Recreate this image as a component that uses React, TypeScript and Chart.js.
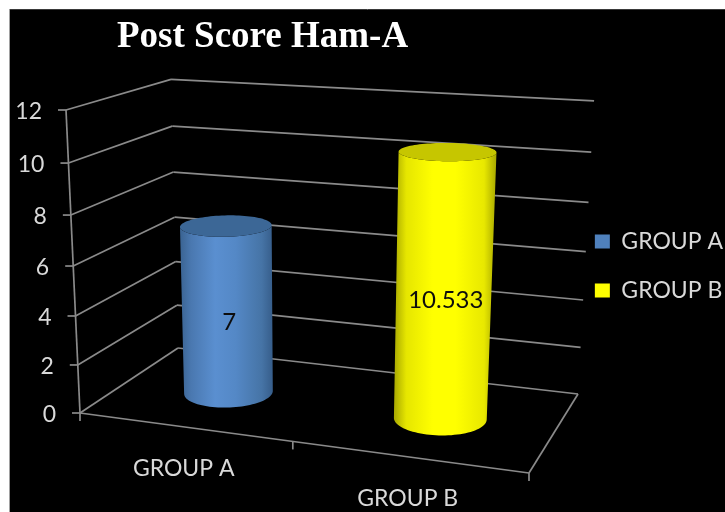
import { useEffect, useRef } from "react";
import { Chart, registerables } from "chart.js";

Chart.register(...registerables);

const categories = ["GROUP A", "GROUP B"];
const groupAValues = [7, null];
const groupBValues = [null, 10.533];
const seriesNames = ["GROUP A", "GROUP B"];
const seriesColors = ["#4f81bd", "#ffff00"];
const axisMax = 12;
const axisStep = 2;

const TEXT = "#d9d9d9";
const GRID = "#8a8a8a";
const SANS = "Lato";

// Screen positions of the 3D frame's corners: origin, far end of the width,
// depth and height edges, with their perspective weights.
const ORIGIN = [80, 413];
const WIDTH_END = [529, 473];
const DEPTH_END = [178, 348];
const HEIGHT_END = [66, 110];
const W_U = -0.099;
const W_V = 0.1346;
const W_T = -0.058;

const project = (u: number, v: number, t: number) => {
  const w = 1 + W_U * u + W_V * v + W_T * t;
  const axis = (i: number) => {
    const bu = (1 + W_U) * WIDTH_END[i] - ORIGIN[i];
    const bv = (1 + W_V) * DEPTH_END[i] - ORIGIN[i];
    const bt = (1 + W_T) * HEIGHT_END[i] - ORIGIN[i];
    return (ORIGIN[i] + u * bu + v * bv + t * bt) / w;
  };
  return [axis(0), axis(1)];
};

// Cylinders stand slightly in front of the middle of the floor.
const BAR_DEPTH = 0.48;
const BAR_DEPTH_RADIUS = 0.21;

const cylinderShades = [
  { stops: ["#3a6391", "#4a78b0", "#5a8fd0", "#5488c6", "#4674a6", "#365d8a"], cap: "#3c6796" },
  { stops: ["#a8a800", "#e6e600", "#ffff00", "#ffff00", "#e8e800", "#a8a800"], cap: "#c6c600" },
];

const line = (ctx: CanvasRenderingContext2D, a: number[], b: number[]) => {
  ctx.beginPath();
  ctx.moveTo(a[0], a[1]);
  ctx.lineTo(b[0], b[1]);
  ctx.stroke();
};

const framePlugin = {
  id: "frame3d",
  beforeDraw(chart: any) {
    const { ctx, width, height } = chart;
    ctx.save();
    ctx.fillStyle = "#000000";
    ctx.fillRect(10, 10, width - 10, height - 10);
    ctx.lineWidth = 1;
    ctx.strokeStyle = "#a0a0a0";
    line(ctx, [9.5, height], [9.5, 10]);
    ctx.strokeStyle = "#3a3a3a";
    line(ctx, [9.5, 9.5], [width, 9.5]);
    ctx.restore();
  },
  beforeDatasetsDraw(chart: any) {
    const { ctx, chartArea, scales } = chart;
    const toT = (value: number) =>
      (chartArea.bottom - scales.y.getPixelForValue(value)) / chartArea.height;
    const toU = (px: number) => (px - chartArea.left) / chartArea.width;

    ctx.save();
    ctx.strokeStyle = GRID;
    ctx.lineWidth = 1.7;
    ctx.fillStyle = TEXT;
    ctx.font = `23px ${SANS}`;

    // Gridlines across the left and back walls, with the value ticks.
    ctx.textAlign = "right";
    ctx.textBaseline = "middle";
    scales.y.ticks.forEach((tick: any) => {
      const t = toT(tick.value);
      const front = project(0, 0, t);
      const corner = project(0, 1, t);
      const far = project(1, 1, t);
      line(ctx, front, corner);
      line(ctx, corner, far);
      line(ctx, [front[0] - 8, front[1]], front);
      ctx.fillText(tick.label, front[0] - 24, front[1] + 2);
    });

    // Value axis and the floor outline.
    line(ctx, project(0, 0, 0), project(0, 0, 1));
    line(ctx, project(0, 0, 0), project(1, 0, 0));
    line(ctx, project(1, 0, 0), project(1, 1, 0));

    // Category ticks and labels along the front edge of the floor.
    [0, 0.5, 1].forEach((u) => {
      const p = project(u, 0, 0);
      line(ctx, p, [p[0], p[1] + 8]);
    });
    ctx.textAlign = "center";
    scales.x.ticks.forEach((_: any, i: number) => {
      const p = project(toU(scales.x.getPixelForValue(i)), 0, 0);
      ctx.fillText(categories[i], p[0], p[1] + 42);
    });

    // One cylinder per value, taken from the bar elements.
    chart.data.datasets.forEach((dataset: any, di: number) => {
      chart.getDatasetMeta(di).data.forEach((bar: any, i: number) => {
        const value = dataset.data[i];
        if (value == null) return;
        const u = toU(bar.x);
        const ru = bar.width / 2 / chartArea.width;
        const t = toT(value);
        const ring = (h: number) => {
          const pts: number[][] = [];
          for (let k = 0; k < 96; k++) {
            const a = (k / 96) * Math.PI * 2;
            pts.push(project(u + ru * Math.cos(a), BAR_DEPTH - BAR_DEPTH_RADIUS * Math.sin(a), h));
          }
          return pts;
        };
        const top = ring(t);
        const bottom = ring(0);
        const extreme = (pts: number[][], sign: number) =>
          pts.reduce((best, p, idx) => (sign * p[0] > sign * pts[best][0] ? idx : best), 0);
        // Near side of a ring, running from its rightmost to its leftmost point.
        const frontArc = (pts: number[][]) => {
          const r = extreme(pts, 1);
          const l = extreme(pts, -1);
          const arc: number[][] = [];
          for (let k = r; ; k = (k + 1) % pts.length) {
            arc.push(pts[k]);
            if (k === l) break;
          }
          return arc;
        };
        const shade = cylinderShades[di];
        const xs = [...top, ...bottom].map((p) => p[0]);
        const gradient = ctx.createLinearGradient(Math.min(...xs), 0, Math.max(...xs), 0);
        [0, 0.12, 0.38, 0.6, 0.88, 1].forEach((s, k) => gradient.addColorStop(s, shade.stops[k]));

        const lowArc = frontArc(bottom);
        const highArc = frontArc(top);
        ctx.beginPath();
        ctx.moveTo(highArc[0][0], highArc[0][1]);
        lowArc.forEach((p) => ctx.lineTo(p[0], p[1]));
        [...highArc].reverse().forEach((p) => ctx.lineTo(p[0], p[1]));
        ctx.closePath();
        ctx.fillStyle = gradient;
        ctx.fill();

        ctx.beginPath();
        top.forEach((p, k) => (k ? ctx.lineTo(p[0], p[1]) : ctx.moveTo(p[0], p[1])));
        ctx.closePath();
        ctx.fillStyle = shade.cap;
        ctx.fill();

        const mid = project(u, BAR_DEPTH, t / 2);
        ctx.fillStyle = "#0d0d0d";
        ctx.textAlign = "center";
        ctx.textBaseline = "middle";
        ctx.font = `24px ${SANS}`;
        ctx.fillText(String(value), mid[0] + 2, mid[1] + 12);
      });
    });
    ctx.restore();
    return false;
  },
};

export default function App() {
  const ref = useRef<HTMLCanvasElement>(null);

  useEffect(() => {
    const chart = new Chart(ref.current as HTMLCanvasElement, {
      type: "bar",
      data: {
        labels: categories,
        datasets: [
          { label: seriesNames[0], data: groupAValues, backgroundColor: seriesColors[0] },
          { label: seriesNames[1], data: groupBValues, backgroundColor: seriesColors[1] },
        ],
      },
      options: {
        animation: false,
        responsive: false,
        layout: { padding: { left: 117, top: 15, right: -8, bottom: -5 } },
        datasets: { bar: { categoryPercentage: 1, barPercentage: 0.4 } },
        scales: {
          x: { display: false, stacked: true },
          y: { display: false, min: 0, max: axisMax, ticks: { stepSize: axisStep } },
        },
        plugins: {
          title: {
            display: true,
            text: "Post Score Ham-A",
            align: "start",
            color: "#ffffff",
            padding: { top: 0, bottom: 4 },
            font: { family: "Liberation Serif", size: 37, weight: "bold" },
          },
          legend: {
            position: "right",
            labels: {
              color: TEXT,
              boxWidth: 15,
              boxHeight: 14,
              padding: 26,
              font: { family: SANS, size: 23 },
            },
          },
          tooltip: { enabled: false },
        },
      },
      plugins: [framePlugin],
    } as any);
    return () => chart.destroy();
  }, []);

  return (
    <div style={{ position: "absolute", left: 0, top: 0, width: 725, height: 512 }}>
      <canvas ref={ref} width={725} height={512} style={{ display: "block" }} />
    </div>
  );
}
